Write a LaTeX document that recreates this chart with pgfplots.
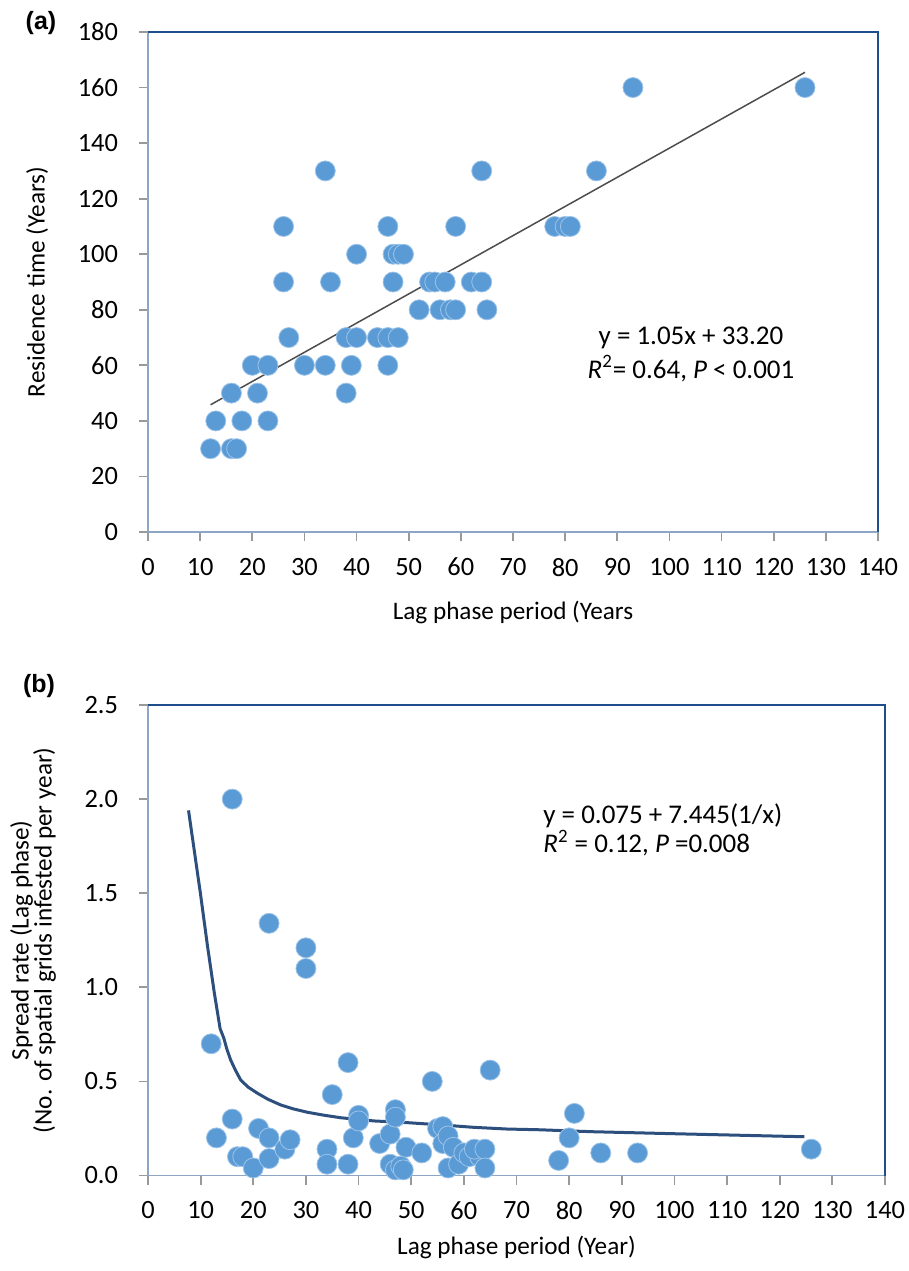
\documentclass[border=0pt]{standalone}
\usepackage{pgfplots}
\pgfplotsset{compat=1.18}
\usepackage{fontspec}
\setmainfont{Carlito}
\newfontfamily\arialfont{Liberation Sans}

\definecolor{dotblue}{HTML}{5B9BD5}
\definecolor{dotedge}{HTML}{9CC3E8}
\definecolor{framedark}{HTML}{1F4E8C}
\definecolor{framelight}{HTML}{8EA6C6}
\definecolor{curveblue}{HTML}{2C4F7E}
\definecolor{trendgray}{HTML}{4D4D4D}

\newcommand{\tickfont}{\fontsize{13.2}{15}\selectfont}

\pgfplotsset{
    panel/.style={
        scale only axis,
        axis x line*=bottom, axis y line*=left,
        axis line style={-, framelight, line width=0.9pt},
        tick align=outside,
        major tick length=4.5pt,
        tick style={draw=black!40, line width=0.9pt},
        xmin=0, xmax=140, xtick={0,10,...,140},
        /pgf/number format/assume math mode=true,
        xticklabel={\tickfont\pgfmathprintnumber{\tick}},
        xticklabel style={yshift=-5pt},
        yticklabel style={xshift=-7pt},
        label style={font=\fontsize{12.6}{13.5}\selectfont},
        xlabel style={anchor=center},
        clip=false,
    },
    dots/.style={only marks, mark=*, mark size=5pt,
        mark options={fill=dotblue, draw=dotedge, line width=0.4pt}},
}

\begin{document}
\begin{tikzpicture}
\path[use as bounding box] (0,0) rectangle (454.5pt,-635.5pt);

% ---- panel (a)
\begin{axis}[
    panel,
    at={(74pt,-266pt)}, anchor=south west,
    width=365pt, height=250pt,
    ymin=0, ymax=180, ytick={0,20,...,180},
    yticklabel={\tickfont\pgfmathprintnumber{\tick}},
    xlabel={Lag phase period (Years},
    ylabel={Residence time (Years)},
    xlabel style={at={(axis description cs:0.5,-0.16)}},
    ylabel style={at={(axis description cs:-0.152,0.5)}, anchor=center},
]
\addplot[dots] coordinates {
    (12,30)(16,30)(17,30)
    (13,40)(18,40)(23,40)
    (16,50)(21,50)(38,50)
    (20,60)(23,60)(30,60)(34,60)(39,60)(46,60)
    (27,70)(38,70)(40,70)(44,70)(46,70)(48,70)
    (52,80)(56,80)(58,80)(59,80)(65,80)
    (26,90)(35,90)(47,90)(54,90)(55,90)(57,90)(62,90)(64,90)
    (40,100)(47,100)(48,100)(49,100)
    (26,110)(46,110)(59,110)(78,110)(80,110)(81,110)
    (34,130)(64,130)(86,130)
    (93,160)(126,160)
};
\addplot[trendgray, line width=0.75pt] coordinates {(12,45.8)(126,165.5)};
\draw[framedark, line width=1.25pt] (rel axis cs:0,1) -- (rel axis cs:1,1) -- (rel axis cs:1,0);
\end{axis}

% ---- panel (b)
\begin{axis}[
    panel,
    at={(74pt,-587.75pt)}, anchor=south west,
    width=368.5pt, height=235.25pt,
    ymin=0, ymax=2.5, ytick={0,0.5,...,2.5},
    yticklabel={\tickfont\pgfmathprintnumber[fixed,fixed zerofill,precision=1]{\tick}},
    xlabel={Lag phase period (Year)},
    ylabel={Spread rate (Lag phase)\\(No. of spatial grids infested per year)},
    xlabel style={at={(axis description cs:0.5,-0.152)}},
    ylabel style={at={(axis description cs:-0.156,0.5)}, anchor=center, align=center,
                  font=\fontsize{12.6}{11.5}\selectfont},
]
\addplot[dots] coordinates {
    (12,0.70)(13,0.20)(16,2.00)(16,0.30)(17,0.10)(18,0.10)(20,0.04)(21,0.25)
    (23,1.34)(23,0.20)(23,0.09)(26,0.14)(27,0.19)(30,1.21)(30,1.10)(34,0.14)
    (34,0.06)(35,0.43)(38,0.60)(38,0.06)(39,0.20)(40,0.32)(40,0.29)(44,0.17)
    (46,0.22)(46,0.06)(47,0.35)(47,0.31)(47,0.03)(48,0.05)(48.5,0.03)(49,0.15)
    (52,0.12)(54,0.50)(55,0.25)(56,0.26)(56,0.17)(57,0.21)(57,0.04)(58,0.15)
    (59,0.06)(60,0.12)(61,0.10)(63,0.10)(62,0.14)(64,0.14)(64,0.04)(65,0.56)
    (78,0.08)(80,0.20)(81,0.33)(86,0.12)(93,0.12)(126,0.14)
};
\addplot[curveblue, line width=1.5pt] coordinates {
    (7.7,1.94)(10.0,1.49)(11.3,1.22)(12.6,0.97)(13.7,0.78)(14.4,0.73)(15.0,0.67)
    (15.7,0.614)(16.6,0.56)(17.6,0.508)(19.0,0.47)(20.8,0.437)(22.8,0.405)
    (25.2,0.375)(27.6,0.354)(30.3,0.336)(33.3,0.321)(36.6,0.307)(42.9,0.29)
    (49.2,0.281)(55.6,0.269)(61.9,0.256)(68.2,0.247)(74.5,0.243)(84,0.233)
    (100,0.222)(124.7,0.206)
};
\draw[framedark, line width=1.25pt] (rel axis cs:0,1) -- (rel axis cs:1,1) -- (rel axis cs:1,0);
\end{axis}

% annotations
\node[align=center, font=\fontsize{13.5}{17}\selectfont] at (345.5pt,-177pt)
    {y = 1.05x + 33.20\\\textit{R}\textsuperscript{2}= 0.64, \textit{P} < 0.001};
\node[align=left, anchor=west, inner sep=0pt, font=\fontsize{13.5}{14.5}\selectfont] at (271.5pt,-415pt)
    {y = 0.075 + 7.445(1/x)\\\textit{R}\textsuperscript{2} = 0.12, \textit{P} =0.008};
\node[font=\arialfont\bfseries\fontsize{12.5}{13}\selectfont] at (20.5pt,-11.5pt) {(a)};
\node[font=\arialfont\bfseries\fontsize{12.5}{13}\selectfont] at (19.5pt,-343pt) {(b)};
\end{tikzpicture}
\end{document}
